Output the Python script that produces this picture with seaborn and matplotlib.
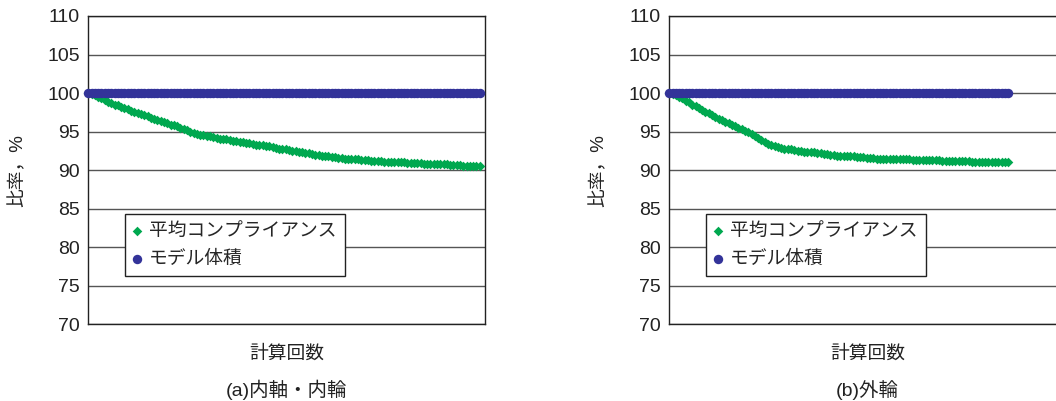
"""
比率の推移（平均コンプライアンス / モデル体積）  (a)内軸・内輪, (b)外輪
"""
import matplotlib
matplotlib.use("Agg")
import matplotlib.pyplot as plt
import seaborn as sns

# ---- data ----
compliance_a = [
    100.0, 99.9, 99.7, 99.5, 99.3, 99.1, 98.9, 98.7, 98.5, 98.4,
    98.2, 98.0, 97.9, 97.7, 97.6, 97.4, 97.3, 97.1, 97.0, 96.8,
    96.7, 96.5, 96.4, 96.2, 96.1, 95.9, 95.8, 95.7, 95.5, 95.4,
    95.2, 95.0, 94.8, 94.7, 94.6, 94.5, 94.4, 94.4, 94.3, 94.2,
    94.1, 94.1, 94.0, 93.9, 93.8, 93.8, 93.7, 93.6, 93.5, 93.5,
    93.4, 93.3, 93.3, 93.2, 93.1, 93.1, 93.0, 92.9, 92.8, 92.8,
    92.7, 92.6, 92.5, 92.5, 92.4, 92.3, 92.2, 92.2, 92.1, 92.0,
    92.0, 91.9, 91.9, 91.8, 91.7, 91.7, 91.6, 91.6, 91.5, 91.5,
    91.4, 91.4, 91.4, 91.3, 91.3, 91.3, 91.2, 91.2, 91.2, 91.2,
    91.1, 91.1, 91.1, 91.0, 91.0, 91.0, 91.0, 90.9, 90.9, 90.9,
    90.9, 90.9, 90.8, 90.8, 90.8, 90.8, 90.8, 90.8, 90.8, 90.8,
    90.7, 90.7, 90.7, 90.7, 90.6, 90.6, 90.6, 90.6, 90.5, 90.5,
]
compliance_b = [
    100.0, 99.9, 99.7, 99.5, 99.3, 99.0, 98.8, 98.5, 98.3, 98.0,
    97.8, 97.6, 97.4, 97.1, 96.9, 96.7, 96.5, 96.3, 96.1, 95.9,
    95.7, 95.5, 95.3, 95.1, 94.9, 94.7, 94.4, 94.2, 93.9, 93.6,
    93.4, 93.2, 93.1, 93.0, 92.9, 92.8, 92.7, 92.7, 92.6, 92.5,
    92.5, 92.4, 92.4, 92.3, 92.3, 92.2, 92.2, 92.1, 92.1, 92.0,
    92.0, 91.9, 91.9, 91.9, 91.8, 91.8, 91.8, 91.7, 91.7, 91.7,
    91.6, 91.6, 91.6, 91.5, 91.5, 91.5, 91.5, 91.5, 91.4, 91.4,
    91.4, 91.4, 91.4, 91.4, 91.3, 91.3, 91.3, 91.3, 91.3, 91.3,
    91.3, 91.3, 91.3, 91.2, 91.2, 91.2, 91.2, 91.2, 91.2, 91.2,
    91.2, 91.2, 91.1, 91.1, 91.1, 91.1, 91.1, 91.1, 91.0, 91.0,
    91.0, 91.0, 91.0, 91.0,
]
volume_a = [100.0] * len(compliance_a)
volume_b = [100.0] * len(compliance_b)

series_labels = ["平均コンプライアンス", "モデル体積"]
y_ticks = [70, 75, 80, 85, 90, 95, 100, 105, 110]
captions = ["(a)内軸・内輪", "(b)外輪"]
x_label = "計算回数"
y_label = "比率，%"

GREEN = "#00a84f"
BLUE = "#333399"

sns.set_style("white")
plt.rcParams["font.family"] = ["Liberation Sans", "Noto Sans CJK JP", "DejaVu Sans"]

W, H = 1056, 401
fig = plt.figure(figsize=(W / 100, H / 100), dpi=100)

panels = [
    (88.3, compliance_a, volume_a, captions[0]),
    (669.3, compliance_b, volume_b, captions[1]),
]
ax_w = 396.7
ax_top, ax_bot = 16.0, 324.3

for left_px, comp, vol, cap in panels:
    ax = fig.add_axes([left_px / W, 1 - ax_bot / H, ax_w / W, (ax_bot - ax_top) / H])
    # thin joining lines under the markers
    sns.lineplot(x=list(range(len(comp))), y=comp, ax=ax, color=GREEN, linewidth=2.5,
                 clip_on=False, zorder=2)
    sns.lineplot(x=list(range(len(vol))), y=vol, ax=ax, color=BLUE, linewidth=4,
                 clip_on=False, zorder=2)
    sns.scatterplot(x=list(range(len(comp))), y=comp, ax=ax, color=GREEN, marker="D",
                    s=24, linewidth=0, label=series_labels[0], clip_on=False, zorder=3)
    sns.scatterplot(x=list(range(len(vol))), y=vol, ax=ax, color=BLUE, marker="o",
                    s=46, linewidth=0, label=series_labels[1], clip_on=False, zorder=4)
    ax.set_xlim(0, 120.6)
    ax.set_ylim(70, 110)
    ax.set_yticks(y_ticks)
    ax.set_xticks([])
    ax.yaxis.grid(True, color="#555555", linewidth=1)
    ax.set_axisbelow(True)
    for sp in ax.spines.values():
        sp.set_color("#222222")
        sp.set_linewidth(1)
    ax.tick_params(axis="y", length=0, pad=6, labelsize=14, labelcolor="#222222")

    ax.set_xlabel("")
    ax.set_ylabel(y_label, fontsize=13.5, color="#222222")
    ax.yaxis.label.set_va("center")
    ax.yaxis.set_label_coords(-70 / ax_w, 0.5)

    handles, labels = ax.get_legend_handles_labels()
    leg = ax.legend(handles[-2:], labels[-2:], loc="upper left",
                    bbox_to_anchor=(0.093, 0.358), borderaxespad=0,
                    frameon=True, fancybox=False, edgecolor="#222222", framealpha=1,
                    fontsize=13.5, handletextpad=0.4, handlelength=0.4,
                    borderpad=0.45, labelspacing=0.6, markerscale=1.0)
    leg.get_frame().set_linewidth(1)

    cx = (left_px + ax_w / 2) / W
    fig.text(cx, 1 - 353.5 / H, x_label, ha="center", va="center", fontsize=13.5, color="#222222")
    fig.text(cx, 1.5 / H, cap, ha="center", va="bottom", fontsize=14, color="#222222")

fig.savefig("out.png", dpi=100)
